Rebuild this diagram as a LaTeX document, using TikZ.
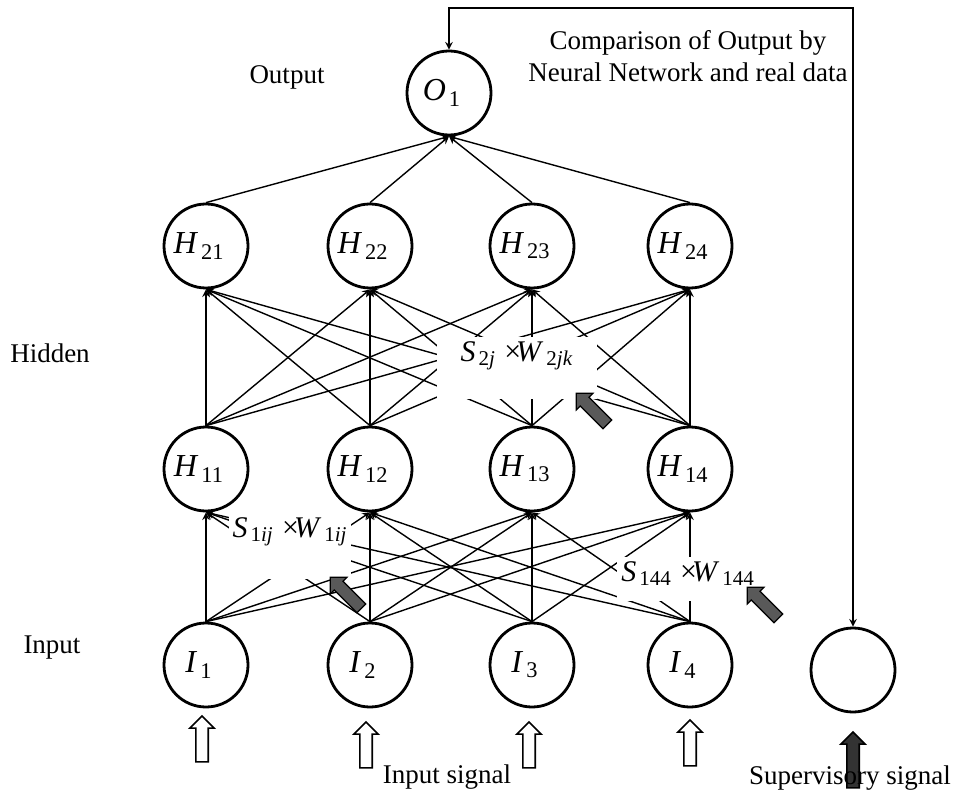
\documentclass[tikz,border=0pt]{standalone}
\usepackage{fontspec}
\setmainfont{Liberation Serif}
\usetikzlibrary{shapes.arrows}
\newcommand{\nsub}[2]{\textit{#1}\kern1.5pt\textsubscript{#2}}% italic letter, upright subscript
\newcommand{\nlab}[2]{\nsub{#1}{#2}\kern7pt}% neuron label, set a little left
\tikzset{
  neuron/.style={draw,circle,line width=1.4pt,minimum size=42pt,inner sep=0,
    font=\fontsize{16pt}{18pt}\selectfont},
  synapse/.style={->,line width=0.7pt},
  gap/.style={fill=white,inner sep=2pt,font=\fontsize{15pt}{17pt}\selectfont},
  inarrow/.style={single arrow,draw,line width=0.8pt,fill=white,rotate=90,
    minimum height=23pt,inner sep=2.7pt,single arrow head extend=3pt},
  hintarrow/.style={single arrow,draw,line width=0.6pt,fill=black!65,rotate=135,
    minimum height=22pt,inner sep=2.8pt,single arrow head extend=2.8pt}
}

\begin{document}
\begin{tikzpicture}[>=stealth,x=0.5pt,y=-0.5pt,font=\fontsize{13.5pt}{16pt}\selectfont]
  \useasboundingbox (0,0) rectangle (961,790);
  % ---- neurons ----
  \node[neuron] (o1) at (449,93) {\nlab{O}{1}};
  \node[neuron] (h21) at (206,246) {\nlab{H}{21}};
  \node[neuron] (h22) at (370,246) {\nlab{H}{22}};
  \node[neuron] (h23) at (532,246) {\nlab{H}{23}};
  \node[neuron] (h24) at (690,246) {\nlab{H}{24}};
  \node[neuron] (h11) at (206,469) {\nlab{H}{11}};
  \node[neuron] (h12) at (370,469) {\nlab{H}{12}};
  \node[neuron] (h13) at (532,469) {\nlab{H}{13}};
  \node[neuron] (h14) at (690,469) {\nlab{H}{14}};
  \node[neuron] (i1) at (206,665) {\nlab{I}{1}};
  \node[neuron] (i2) at (370,665) {\nlab{I}{2}};
  \node[neuron] (i3) at (532,665) {\nlab{I}{3}};
  \node[neuron] (i4) at (690,665) {\nlab{I}{4}};
  \node[neuron] (sv) at (853,670) {};
  % ---- layer names ----
  \node (outname) at (287,77) {Output};
  \node (hidname) at (50,353) {Hidden};
  \node (inname) at (52,648) {Input};
  % ---- connections ----
  \foreach \k in {1,...,4}
    \draw[synapse] (h2\k.north) -- (o1.south);
  \foreach \j in {1,...,4}
    \foreach \k in {1,...,4}
      \draw[synapse] (h1\j.north) -- (h2\k.south);
  \foreach \i in {1,...,4}
    \foreach \j in {1,...,4}
      \draw[synapse] (i\i.north) -- (h1\j.south);
  % weight labels cut the lines
  \node[gap,anchor=base,minimum width=80pt,text depth=17pt] (w2) at (517,361)
    {\nsub{S}{2\textit{j}}\;×\kern-2.5pt\nsub{W}{2\textit{jk}}};
  \node[gap,anchor=base,minimum width=57pt,text depth=19pt] (w1) at (290,537)
    {\nsub{S}{1\textit{ij}}\;×\kern-2.5pt\nsub{W}{1\textit{ij}}};
  \node[gap,anchor=base,text depth=8pt] (w144) at (688,581)
    {\nsub{S}{144}\;×\kern-2.5pt\nsub{W}{144}};
  \node[hintarrow] (hint2) at (594,411) {};
  \node[hintarrow] (hint1) at (348,595) {};
  \node[hintarrow] (hint3) at (765,605) {};
  % ---- feedback from supervisor ----
  \coordinate (fbtop) at (853,8);
  \draw[<->,line width=0.7pt] (o1.north) |- (fbtop) -- (sv.north);
  \node[align=center] (cmp) at (688,56) {Comparison of Output by\\Neural Network and real data};
  % ---- signals ----
  \node[inarrow] (in1) at (202,742) {};
  \node[inarrow] (in2) at (366,748) {};
  \node[inarrow] (in3) at (529,748) {};
  \node[inarrow] (in4) at (690,746) {};
  \node[inarrow,fill=black!80,minimum height=28pt] (svarrow) at (853,763) {};
  \node[anchor=base] (insig) at (447,783) {Input signal};
  \node[anchor=base] (svsig) at (850,784) {Supervisory signal};
\end{tikzpicture}
\end{document}
